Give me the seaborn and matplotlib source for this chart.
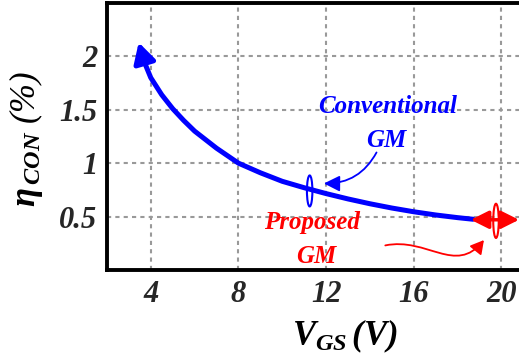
import matplotlib
matplotlib.use("Agg")
import matplotlib.pyplot as plt
import seaborn as sns
import pandas as pd
from matplotlib.patches import Ellipse, FancyArrowPatch
from matplotlib.path import Path

# data
vgs = [3.72, 4.0, 4.5, 5.0, 5.5, 6.0, 6.5, 7.0, 7.5, 8.0, 9.0, 10.0, 11.0, 12.0,
       13.0, 14.0, 15.0, 16.0, 17.0, 18.0, 18.7]
eta = [1.94, 1.80, 1.64, 1.51, 1.40, 1.30, 1.22, 1.14, 1.07, 1.00, 0.91, 0.83, 0.77, 0.715,
       0.665, 0.62, 0.58, 0.545, 0.515, 0.49, 0.475]
xticks = [4, 8, 12, 16, 20]
yticks = [0.5, 1, 1.5, 2]
ytick_labels = ["0.5", "1", "1.5", "2"]

sns.set_theme(style="white")
plt.rcParams['font.family'] = ['Liberation Serif', 'DejaVu Serif']
plt.rcParams['font.weight'] = 'bold'
plt.rcParams['font.style'] = 'italic'
plt.rcParams['mathtext.fontset'] = 'custom'
plt.rcParams['mathtext.rm'] = 'Liberation Serif:bold:italic'
plt.rcParams['mathtext.it'] = 'Liberation Serif:bold:italic'
plt.rcParams['mathtext.bf'] = 'Liberation Serif:bold:italic'

fig = plt.figure(figsize=(5.19, 3.6), dpi=100)
ax = fig.add_axes([0.206, 0.25, 0.794, 0.742])

df = pd.DataFrame({"VGS": vgs, "eta": eta})
sns.lineplot(data=df, x="VGS", y="eta", sort=False, color="#0000ff", lw=3.6, ax=ax,
             solid_joinstyle="round", solid_capstyle="round")

# arrow head at the start of the curve
ax.annotate("", xy=(3.45, 2.13), xytext=(vgs[0], eta[0]),
            arrowprops=dict(arrowstyle="-|>,head_length=1.0,head_width=0.55",
                            color="#0000ff", lw=3.6, shrinkA=0, shrinkB=0))

ax.set_xlim(2, 20.8)
ax.set_ylim(0, 2.5)
ax.set_xticks(xticks)
ax.set_xticklabels([str(t) for t in xticks])
ax.set_yticks(yticks)
ax.set_yticklabels(ytick_labels)
ax.tick_params(length=0, labelsize=22, pad=7)
for lab in ax.get_xticklabels() + ax.get_yticklabels():
    lab.set_fontweight('bold'); lab.set_fontstyle('italic')

ax.grid(True, color="#999999", linestyle=(0, (2, 2)), lw=1.5)
for s in ["left", "bottom", "top"]:
    ax.spines[s].set_color("black")
    ax.spines[s].set_linewidth(2.8)
ax.spines["right"].set_visible(False)

ax.set_xlabel(r"$V_{GS}\,(V)$", fontsize=25, color="black")
ax.xaxis.set_label_coords(0.578, -0.18)
ax.set_ylabel(r"$\eta_{\,CON}$ (%)", fontsize=25, color="black")
ax.yaxis.set_label_coords(-0.15, 0.49)

# red double arrow (proposed GM)
ax.annotate("", xy=(20.8, 0.47), xytext=(18.6, 0.47), annotation_clip=False,
            arrowprops=dict(arrowstyle="<|-|>,head_length=0.9,head_width=0.45",
                            color="#ff0000", lw=2.5, shrinkA=0, shrinkB=0))

ax.add_patch(Ellipse((11.25, 0.74), 0.25, 0.29, fill=False, ec="#0000ff", lw=1.5))
ax.add_patch(Ellipse((19.75, 0.46), 0.25, 0.32, fill=False, ec="#ff0000", lw=1.5, clip_on=False))

ax.text(14.8, 1.53, "Conventional", color="#0000ff", fontsize=18,
        fontweight="bold", fontstyle="italic", ha="center", va="center")
ax.text(14.75, 1.21, "GM", color="#0000ff", fontsize=18,
        fontweight="bold", fontstyle="italic", ha="center", va="center")
ax.annotate("", xy=(11.9, 0.81), xytext=(14.3, 1.10),
            arrowprops=dict(arrowstyle="-|>,head_length=0.8,head_width=0.4",
                            color="#0000ff", lw=1.3, shrinkA=0, shrinkB=0,
                            connectionstyle="arc3,rad=-0.3"))

ax.text(11.37, 0.44, "Proposed", color="#ff0000", fontsize=18,
        fontweight="bold", fontstyle="italic", ha="center", va="center")
ax.text(11.55, 0.13, "GM", color="#ff0000", fontsize=18,
        fontweight="bold", fontstyle="italic", ha="center", va="center")

red_path = Path([(14.7, 0.23), (16.6, 0.31), (17.9, -0.05), (19.2, 0.28)],
                [Path.MOVETO, Path.CURVE4, Path.CURVE4, Path.CURVE4])
ax.add_patch(FancyArrowPatch(path=red_path, arrowstyle="-|>,head_length=8,head_width=4.5",
                             color="#ff0000", lw=1.3, transform=ax.transData))

fig.savefig("out.png", dpi=100)
